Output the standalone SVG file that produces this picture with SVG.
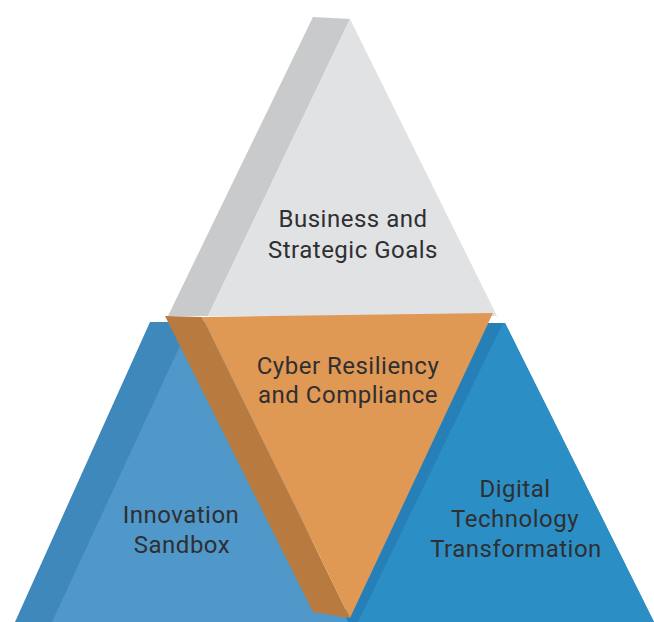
<svg xmlns="http://www.w3.org/2000/svg" width="654" height="622" viewBox="0 0 654 622">
<style>
.lbl{font-family:Roboto,"Liberation Sans",sans-serif;font-size:24px;fill:#2f2f31;text-anchor:middle;letter-spacing:0.5px}
</style>
<rect width="654" height="622" fill="#ffffff"/>
<g id="node-digital">
<polygon points="470,323 505,323 654,622 340,622" fill="#2680b7"/>
<polygon points="503,323 505,323 654,622 358,622" fill="#2b8fc6"/>
<text class="lbl" x="515" y="497">Digital</text>
<text class="lbl" x="515" y="527">Technology</text>
<text class="lbl" x="516" y="557">Transformation</text>
</g>
<g id="node-innovation">
<polygon points="150,322 215,322 348,622 15,622" fill="#3f88bb"/>
<polygon points="185,335 215,335 348,622 52,622" fill="#5098c9"/>
<text class="lbl" x="181" y="523">Innovation</text>
<text class="lbl" x="182" y="553">Sandbox</text>
</g>
<g id="node-business">
<polygon points="313,17 350,19 208,316 168,316" fill="#c9cacc"/>
<polygon points="350,19 497,316 208,316" fill="#e1e2e4"/>
<text class="lbl" x="353" y="227">Business and</text>
<text class="lbl" x="353" y="258">Strategic Goals</text>
</g>
<g id="node-cyber">
<polygon points="165,316 202,317 350,618 313,612" fill="#b87a3f"/>
<polygon points="202,317 493,313 350,618" fill="#e09855"/>
<text class="lbl" x="348" y="374">Cyber Resiliency</text>
<text class="lbl" x="348" y="403">and Compliance</text>
</g>
<g id="connectors"></g>
</svg>
